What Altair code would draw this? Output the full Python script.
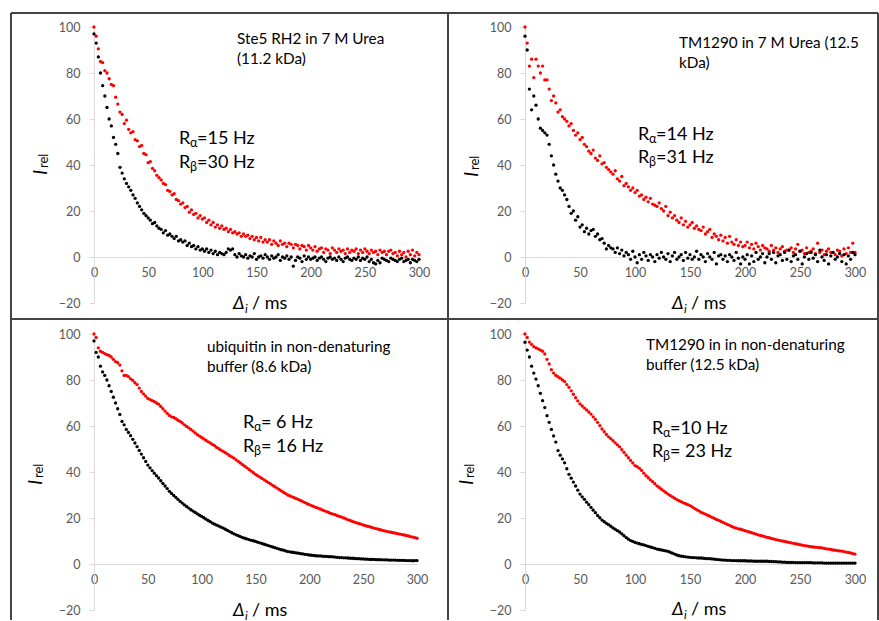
import altair as alt
import pandas as pd

# ---------------- data ----------------
delay_ms = [
    0, 2, 4, 6, 8, 10, 12, 14, 16, 18,
    20, 22, 24, 26, 28, 30, 32, 34, 36, 38,
    40, 42, 44, 46, 48, 50, 52, 54, 56, 58,
    60, 62, 64, 66, 68, 70, 72, 74, 76, 78,
    80, 82, 84, 86, 88, 90, 92, 94, 96, 98,
    100, 102, 104, 106, 108, 110, 112, 114, 116, 118,
    120, 122, 124, 126, 128, 130, 132, 134, 136, 138,
    140, 142, 144, 146, 148, 150, 152, 154, 156, 158,
    160, 162, 164, 166, 168, 170, 172, 174, 176, 178,
    180, 182, 184, 186, 188, 190, 192, 194, 196, 198,
    200, 202, 204, 206, 208, 210, 212, 214, 216, 218,
    220, 222, 224, 226, 228, 230, 232, 234, 236, 238,
    240, 242, 244, 246, 248, 250, 252, 254, 256, 258,
    260, 262, 264, 266, 268, 270, 272, 274, 276, 278,
    280, 282, 284, 286, 288, 290, 292, 294, 296, 298,
    300,
]

# Ste5 RH2 in 7 M urea
ste5_urea_alpha = [
    100, 96, 90.5, 85, 84.5, 81, 80, 77.5, 75, 74.5,
    69.5, 66.5, 63, 62, 58, 59.5, 55.5, 54, 54.5, 51,
    50.5, 48, 48.5, 45, 44.5, 41, 41.5, 38.5, 37.5, 35.5,
    34.5, 33.5, 32, 31.5, 29, 28.5, 27, 27.5, 25, 24.5,
    23, 23.5, 21.5, 22, 19.5, 20.5, 18.5, 19, 17, 18,
    16.5, 17, 15, 16, 14, 15, 13, 14, 12.5, 13.5,
    12, 12.5, 11, 12, 10.5, 11, 10, 10.5, 9, 10,
    9, 9.5, 8, 9, 7.5, 8.5, 7, 8.5, 6.5, 7.5,
    6.5, 7.5, 5.5, 7, 6, 5, 7, 5.5, 6, 4.5,
    6, 5.5, 4, 5.5, 5, 3.5, 5, 4.5, 3, 5,
    4, 3, 4.5, 2.5, 3.5, 4, 2, 3.5, 3, 1.5,
    4, 3, 2, 3.5, 2.5, 3, 1.5, 3.5, 2, 3,
    2.5, 3.5, 1.5, 3, 2, 3.5, 2.5, 1.5, 3, 2,
    2.5, 1, 3, 2, 2.5, 1, 2.5, 3, 1.5, 2,
    0.5, 2.5, 1, 2, 0, 2.5, 1, 3, 0.5, 2,
    1,
]
ste5_urea_beta = [
    97, 93, 87, 80, 74.5, 70, 65, 60, 57, 52,
    49, 45, 39, 36.5, 34, 32, 30.5, 29, 27, 25.5,
    23.5, 22, 20.5, 19, 18, 17, 16, 14.5, 15, 13.5,
    12.5, 12, 10.5, 11.5, 9.5, 10, 9, 8, 9, 7,
    7.5, 6.5, 7, 5, 6, 4.5, 5, 3.5, 4.5, 3,
    3.5, 2.5, 3.5, 2, 3, 1.5, 2.5, 1, 2, 1.5,
    1, 2, 3.5, 3, 3.5, 1, 0, 1.5, 0.5, 0,
    1, -0.5, 0.5, 0, 1.5, -1, 0, 0.5, -0.5, 1,
    0, -1, 0.5, -0.5, 0, 1, -1.5, 0, -0.5, 0.5,
    -1, 0, -4, -1.5, 0, -0.5, -2, 0.5, -1, 0,
    -1, -0.5, 0, -1.5, -0.5, 0, -1, -2, -0.5, 0,
    -1, -0.5, -1.5, 0, -1, -2, -0.5, 0, -1, -1.5,
    -0.5, -1, 0, -1.5, -0.5, -1, 0, -2, -1, -2.5,
    -3, -1.5, -2.5, -0.5, -1, -1.5, -2, -0.5, -1, -1.5,
    -2, -1, -0.5, -2, -1.5, -1, -2.5, -1, -1.5, -2,
    -1,
]

# TM1290 in 7 M urea
tm_urea_alpha = [
    100, 93, 83, 86, 78, 86, 83, 80, 83, 77,
    77, 73, 68, 70, 67, 63, 64, 61, 60, 59,
    57, 58, 55, 53, 54, 51, 52, 49, 48, 46,
    45, 46.5, 43, 42, 44, 40.5, 41, 39, 38, 37,
    36, 37.5, 34, 33, 35, 31, 32, 30.5, 29, 30,
    28, 29, 26.5, 27, 25, 26, 24, 25.5, 23, 22.5,
    22, 23.5, 21, 20, 22, 18, 19.5, 17, 18, 16,
    15, 17, 14, 15.5, 13, 14, 15, 12.5, 13.5, 12,
    11.5, 13, 10, 11, 12, 8.5, 10, 9, 7.5, 9.5,
    7, 8.5, 6, 9, 6.5, 5.5, 7.5, 5, 6.5, 4.5,
    5, 6.5, 4, 5.5, 3.5, 6, 4.5, 3, 5, 4,
    3.5, 2.5, 5, 3, 4, 2, 3.5, 4.5, 2.5, 3,
    3, 4, 2, 3.5, 5.5, 2.5, 3, 1.5, 4, 2,
    2.5, 3.5, 1.5, 6, 2, 3, 1, 2.5, 3.5, 2,
    2, 1, 3, 2.5, 0.5, 3.5, 1.5, 4, 2, 6,
    2,
]
tm_urea_beta = [
    96, 90, 73, 64, 70, 66, 60, 56, 55, 54,
    53, 49, 44, 40, 36, 33, 30, 29, 27, 25,
    22, 19, 20, 16, 17.5, 13, 14, 11, 12.5, 10,
    11.5, 12, 9, 10, 7.5, 8, 6, 3.5, 5, 4,
    3.5, 2, 4, 1.5, 3, 0.5, 2, 1, -1, 2.5,
    0, -2.5, 1, -1, 2, 0.5, -1.5, 1, 0, -2,
    1, -0.5, 2, 0, -1, 1.5, -2, 0.5, 2, -1,
    0, 1, -1.5, 2, -0.5, 1, -1, 0, 2.5, -1,
    1, 0, -2, 1.5, 0, -1, 2, -3, 0.5, 1,
    -1, 0.5, -2, 1, 0, -1.5, 2, -0.5, -3, 0,
    -1, 1, -3, 0.5, -2, 2, -1, 0, 1.5, -2.5,
    0, 1.5, -1, 2, -2.5, 0.5, 1, -1.5, 2, -1,
    3, -2, 0.5, 1, -1, 2.5, -3, 0, 1.5, -1,
    2, -0.5, 1, -2, 3, 0, -1.5, 1, -3, 0.5,
    2, -1, 0, 1.5, -2, 1, -3, 0.5, -1, 2,
    1,
]

# ubiquitin in non-denaturing buffer
ubq_native_alpha = [
    100, 98.5, 94, 92.5, 92, 91.5, 91, 90.7, 90, 89,
    88, 87.5, 86.5, 84, 82, 82, 81.5, 80.5, 79.8, 78.8,
    78, 76.5, 75, 74, 73, 72, 71.5, 71, 70.6, 70,
    69.5, 68.5, 67.5, 66.5, 65.5, 64.6, 64, 63.7, 63.2, 62.5,
    62, 61.3, 60.5, 59.8, 59.2, 58.5, 57.8, 57, 56.2, 55.6,
    55, 54.4, 53.8, 53.1, 52.6, 52, 51.4, 50.7, 50.1, 49.5,
    49, 48.4, 47.8, 47.1, 46.6, 46, 45.3, 44.6, 43.9, 43.2,
    42.5, 41.8, 41.1, 40.4, 39.7, 39, 38.4, 37.8, 37.2, 36.6,
    36, 35.4, 34.8, 34.2, 33.6, 33, 32.4, 31.8, 31.2, 30.6,
    30, 29.6, 29.2, 28.8, 28.4, 28, 27.6, 27.1, 26.7, 26.2,
    25.8, 25.4, 25, 24.6, 24.3, 23.9, 23.5, 23.1, 22.8, 22.4,
    22, 21.7, 21.4, 21, 20.7, 20.4, 20, 19.6, 19.2, 18.9,
    18.5, 18.2, 17.9, 17.6, 17.3, 17, 16.7, 16.4, 16.2, 15.9,
    15.6, 15.4, 15.1, 14.9, 14.6, 14.4, 14.2, 14, 13.8, 13.6,
    13.4, 13.2, 13, 12.8, 12.6, 12.4, 12.2, 11.9, 11.7, 11.5,
    11.2,
]
ubq_native_beta = [
    97, 92, 90, 86, 83.5, 82, 80, 77.5, 75, 72.5,
    70, 67.5, 65, 62, 60.5, 58.5, 57.2, 55.8, 54.2, 52.6,
    51, 49.4, 47.8, 46.2, 44.6, 43, 41.8, 40.6, 39.5, 38.4,
    37.4, 36.2, 35, 33.9, 32.8, 31.6, 30.7, 29.8, 29, 28.1,
    27.2, 26.5, 25.7, 25, 24.3, 23.6, 23, 22.4, 21.8, 21.2,
    20.7, 20.1, 19.5, 18.9, 18.4, 17.8, 17.3, 16.9, 16.5, 16,
    15.6, 15.1, 14.6, 14.1, 13.6, 13.1, 12.7, 12.3, 11.9, 11.5,
    11.2, 10.9, 10.6, 10.3, 10.1, 9.8, 9.5, 9.2, 8.9, 8.6,
    8.3, 8, 7.7, 7.4, 7.1, 6.8, 6.5, 6.2, 6, 5.7,
    5.4, 5.3, 5.1, 5, 4.8, 4.7, 4.5, 4.4, 4.2, 4.1,
    3.9, 3.8, 3.7, 3.6, 3.5, 3.5, 3.4, 3.3, 3.3, 3.2,
    3.2, 3.1, 3, 2.9, 2.8, 2.8, 2.7, 2.7, 2.6, 2.5,
    2.5, 2.4, 2.3, 2.3, 2.2, 2.2, 2.1, 2.1, 2, 2,
    2, 1.9, 1.9, 1.9, 1.8, 1.8, 1.8, 1.7, 1.7, 1.7,
    1.7, 1.6, 1.6, 1.6, 1.6, 1.5, 1.5, 1.5, 1.4, 1.5,
    1.5,
]

# TM1290 in non-denaturing buffer
tm_native_alpha = [
    100, 98.5, 96.5, 95.5, 94.5, 94, 93.5, 93, 92.5, 91.3,
    89, 87, 84.5, 83, 82, 81.4, 80.8, 80, 79.3, 78,
    76.8, 75.3, 73.8, 72.3, 70.9, 69.6, 68.7, 67.8, 67, 66.1,
    65.2, 64, 62.9, 61.6, 60.2, 58.7, 57.5, 56.3, 55.3, 54.5,
    53.6, 52.7, 51.8, 50.9, 49.7, 48.5, 47.3, 46.2, 45, 43.9,
    42.8, 42.3, 41.6, 40.7, 39.5, 38.4, 37.5, 36.6, 35.8, 34.9,
    34, 33.3, 32.5, 31.8, 31.1, 30.4, 29.8, 29.2, 28.6, 28,
    27.5, 27.1, 26.6, 26.2, 25.8, 25.4, 24.8, 24.2, 23.6, 23.1,
    22.5, 22.1, 21.7, 21.2, 20.8, 20.3, 19.9, 19.4, 19, 18.6,
    18.1, 17.7, 17.2, 16.8, 16.3, 15.9, 15.6, 15.3, 15.1, 14.8,
    14.5, 14.2, 13.9, 13.6, 13.3, 13, 12.7, 12.4, 12.2, 11.9,
    11.6, 11.4, 11.1, 10.9, 10.6, 10.4, 10.2, 10, 9.8, 9.6,
    9.4, 9.2, 9, 8.8, 8.6, 8.4, 8.2, 8, 7.9, 7.7,
    7.5, 7.4, 7.3, 7.2, 7.1, 7, 6.8, 6.6, 6.5, 6.3,
    6.1, 6, 5.8, 5.7, 5.6, 5.4, 5.2, 5, 4.8, 4.5,
    4.3,
]
tm_native_beta = [
    96.4, 93, 90, 86, 83, 80.4, 77.5, 74.2, 71, 68,
    64.5, 61.6, 58.5, 55.7, 53, 49.3, 47.3, 45.7, 44, 41.4,
    39, 37.3, 35.6, 33.9, 32.1, 30.4, 29.2, 28.1, 26.9, 25.8,
    24.6, 23.4, 22.3, 21.1, 20.1, 19.1, 18.4, 17.7, 17.1, 16.4,
    15.7, 15.1, 14.5, 13.9, 13.1, 12.3, 11.5, 10.8, 10.2, 9.8,
    9.4, 9.1, 8.8, 8.5, 8.3, 8, 7.7, 7.4, 7.1, 6.8,
    6.5, 6.3, 6.1, 5.9, 5.7, 5.5, 5.1, 4.7, 4.3, 3.9,
    3.6, 3.4, 3.3, 3.1, 3, 2.9, 2.8, 2.8, 2.7, 2.6,
    2.6, 2.5, 2.4, 2.3, 2.3, 2.2, 2.1, 2, 1.9, 1.8,
    1.7, 1.7, 1.6, 1.6, 1.5, 1.5, 1.5, 1.4, 1.4, 1.4,
    1.4, 1.3, 1.3, 1.3, 1.2, 1.2, 1.2, 1.2, 1.2, 1.2,
    1.2, 1.1, 1.1, 1, 1, 0.9, 0.9, 0.8, 0.8, 0.7,
    0.7, 0.7, 0.7, 0.6, 0.6, 0.6, 0.6, 0.6, 0.6, 0.6,
    0.6, 0.5, 0.5, 0.5, 0.5, 0.5, 0.4, 0.4, 0.4, 0.4,
    0.4, 0.4, 0.4, 0.4, 0.4, 0.4, 0.4, 0.4, 0.4, 0.4,
    0.4,
]

x_ticks = [0, 50, 100, 150, 200, 250, 300]
y_ticks = [-20, 0, 20, 40, 60, 80, 100]
spin_labels = ["α", "β"]
spin_colors = ["#ff0000", "#000000"]

# ---------------- styling ----------------
FONT = "Lato"
LABEL_GRAY = "#595959"
AXIS_GRAY = "#d9d9d9"
FRAME = "#444444"
PLOT_H = 276

one_row = pd.DataFrame({"k": [0]})


def txt(text, x, y, size, italic=False, angle=0, line_height=None):
    kw = dict(text=text, fontSize=size, font=FONT, align="left",
              baseline="alphabetic", color="#000000")
    if italic:
        kw["fontStyle"] = "italic"
    if angle:
        kw["angle"] = angle
    if line_height:
        kw["lineHeight"] = line_height
    return alt.Chart(one_row).mark_text(**kw).encode(x=alt.value(x), y=alt.value(y))


def rule(x, y, x2=None, y2=None):
    enc = dict(x=alt.value(x), y=alt.value(y))
    if x2 is not None:
        enc["x2"] = alt.value(x2)
    if y2 is not None:
        enc["y2"] = alt.value(y2)
    return alt.Chart(one_row).mark_rule(color=FRAME, strokeWidth=2).encode(**enc)


def points(alpha, beta):
    df = pd.DataFrame({
        "delay": delay_ms + delay_ms,
        "intensity": alpha + beta,
        "spin": [spin_labels[0]] * len(alpha) + [spin_labels[1]] * len(beta),
    })
    x_axis = alt.Axis(values=x_ticks, title=None, grid=False, offset=-46, tickSize=0,
                      domainColor=AXIS_GRAY, labelColor=LABEL_GRAY, labelFont=FONT,
                      labelFontSize=12.5, labelPadding=9, labelFlush=False,
                      labelOverlap=False)
    y_axis = alt.Axis(values=y_ticks, title=None, grid=False, tickSize=5,
                      tickColor=AXIS_GRAY, domainColor=AXIS_GRAY, labelColor=LABEL_GRAY,
                      labelFont=FONT, labelFontSize=12.5, labelPadding=9)
    return alt.Chart(df).mark_circle(size=11, opacity=1).encode(
        x=alt.X("delay:Q", scale=alt.Scale(domain=[0, 300], nice=False, zero=False), axis=x_axis),
        y=alt.Y("intensity:Q", scale=alt.Scale(domain=[-20, 100], nice=False), axis=y_axis),
        color=alt.Color("spin:N", scale=alt.Scale(domain=spin_labels, range=spin_colors), legend=None),
    )


def panel(alpha, beta, width, annot, annot_xy, r_x, r_y, r_rest, ytitle_xy, xtitle_xy, extra=()):
    layers = [points(alpha, beta)]
    layers.append(txt(annot, annot_xy[0], annot_xy[1], 15.3, line_height=20))
    for sub, rest, ry in zip(spin_labels, r_rest, r_y):
        layers += [txt("R", r_x, ry, 18), txt(sub, r_x + 11, ry + 3, 12.5), txt(rest, r_x + 18, ry, 18)]
    yx, yy = ytitle_xy
    layers += [txt("I", yx, yy, 20, italic=True, angle=270), txt("rel", yx + 1, yy - 7, 13, angle=270)]
    xx, xy = xtitle_xy
    layers += [txt("Δ", xx, xy, 18, italic=True), txt("i", xx + 12, xy + 4, 12, italic=True),
               txt("/ ms", xx + 19, xy, 18)]
    layers += list(extra)
    return alt.layer(*layers).properties(width=width, height=PLOT_H)


frame = [
    rule(-83, -14, x2=784),          # top border
    rule(-83, 292, x2=784),          # horizontal divider
    rule(-83, -14, y2=593),          # left border
    rule(354, -14, y2=593),          # vertical divider
    rule(784, -14, y2=593),          # right border
]

pA = panel(ste5_urea_alpha, ste5_urea_beta, 325,
           ["Ste5 RH2 in 7 M Urea", "(11.2 kDa)"], (143, 17),
           85, (117, 141), ["=15 Hz", "=30 Hz"], (-47, 148), (139, 282), extra=frame)
pB = panel(tm_urea_alpha, tm_urea_beta, 330,
           ["TM1290 in 7 M Urea (12.5", "kDa)"], (154, 21),
           113, (113, 136), ["=14 Hz", "=31 Hz"], (-47, 150), (147, 282))
pC = panel(ubq_native_alpha, ubq_native_beta, 323,
           ["ubiquitin in non-denaturing", "buffer (8.6 kDa)"], (113, 18),
           149, (94, 118), ["= 6 Hz", "= 16 Hz"], (-52, 151), (139, 282))
pD = panel(tm_native_alpha, tm_native_beta, 330,
           ["TM1290 in in non-denaturing", "buffer (12.5 kDa)"], (121, 16),
           127, (100, 123), ["=10 Hz", "= 23 Hz"], (-52, 151), (147, 281))

chart = alt.concat(
    pA, pB, pC, pD, columns=2, spacing={"row": 31, "column": 106},
    bounds="flush", align="each",
).properties(
    padding={"left": 10, "top": 12, "right": 0, "bottom": 0},
    autosize=alt.AutoSizeParams(type="pad"),
    background="#ffffff",
).configure_view(stroke=None)

chart.save("out.html", embed_options={"renderer": "svg", "actions": False})
